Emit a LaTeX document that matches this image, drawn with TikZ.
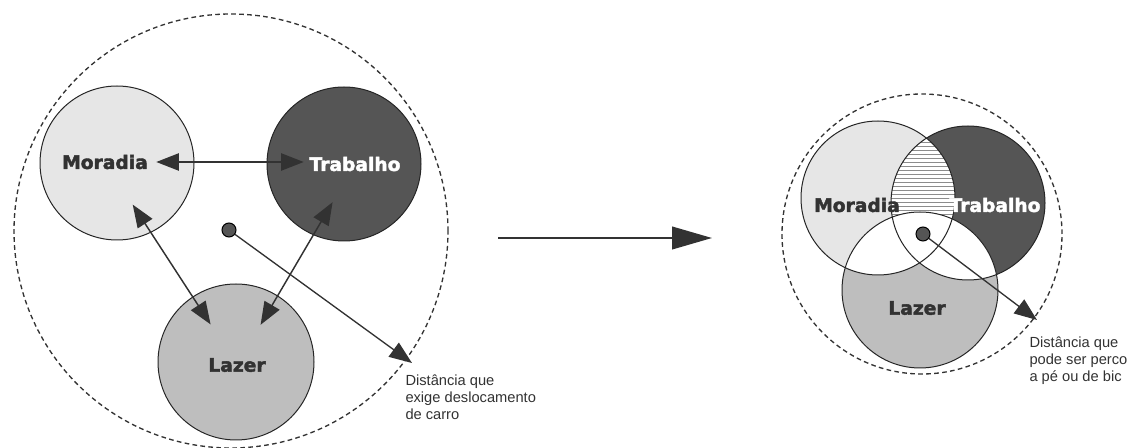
\documentclass[tikz,border=0pt]{standalone}
\usepackage{fontspec}
\setmainfont{Liberation Sans}
\newfontfamily\labelfont[FakeBold=2.2]{DejaVu Sans Bold}
\usetikzlibrary{arrows.meta,calc}

\definecolor{moradiaGray}{RGB}{230,230,230}
\definecolor{trabalhoGray}{RGB}{85,85,85}
\definecolor{lazerGray}{RGB}{190,190,190}
\definecolor{inkGray}{RGB}{50,50,50}

\tikzset{every picture/.style={line width=0.75pt}}
\tikzset{
  zone/.style={circle, draw=black!85, inner sep=0pt, outer sep=0pt, minimum size=115.5pt},
  reach/.style={circle, draw=black!80, dash pattern=on 3.5pt off 2.5pt, line width=1pt, inner sep=0pt, outer sep=0pt},
  zonelabel/.style={font=\labelfont\fontsize{14}{16}\selectfont, text=inkGray, inner sep=0pt},
  note/.style={font=\fontsize{11}{13}\selectfont, text=inkGray, align=left, anchor=north west, inner sep=0pt},
  link/.style={draw=inkGray, line width=1.1pt, {Triangle[length=17pt,width=13pt]}-{Triangle[length=17pt,width=13pt]}},
  reachline/.style={draw=inkGray, line width=1pt, -{Triangle[length=17pt,width=13pt]}},
  centre/.style={circle, draw=black, fill=trabalhoGray, minimum size=10.5pt, inner sep=0pt}
}

\begin{document}
\begin{tikzpicture}[x=0.75pt,y=0.75pt,yscale=-1,xscale=1]
\useasboundingbox (0,0) rectangle (1129,448);

%Shape: Circle, car area
\node[reach, minimum size=325.5pt] (carArea) at (231,231) {};
%Shape: Circle [moradia, left]
\node[zone, fill=moradiaGray] (moradiaL) at (117,163) {};
%Shape: Circle [trabalho, left]
\node[zone, fill=trabalhoGray] (trabalhoL) at (344,164) {};
%Shape: Circle [lazer, left]
\node[zone, fill=lazerGray, minimum size=117pt] (lazerL) at (236,362) {};

% Text Node
\node[zonelabel] (moradiaTxtL) at (105,162) {Moradia};
% Text Node
\node[zonelabel, text=white] (trabalhoTxtL) at (355,164) {Trabalho};
% Text Node
\node[zonelabel] (lazerTxtL) at (237,365) {Lazer};

%Straight Lines
\draw[link, shorten <=6pt, shorten >=4pt] (moradiaTxtL.east) -- (moradiaTxtL.east -| trabalhoTxtL.west);
\draw[link] ($(moradiaTxtL)!0.21!(lazerTxtL)$) -- ($(moradiaTxtL)!0.8!(lazerTxtL)$);
\draw[link] ($(trabalhoTxtL)!0.19!(lazerTxtL)$) -- ($(trabalhoTxtL)!0.8!(lazerTxtL)$);

%Shape: Circle, centre dot
\node[centre] (carDot) at (229,230) {};
\coordinate (carEnd) at (412,363);
\draw[reachline] (carDot) -- (carEnd);
% Text Node
\node[note] (carNote) at (405,374) {Distância que\\exige deslocamento\\de carro};

%Straight Lines, middle arrow
\coordinate (shiftStart) at (498,238);
\coordinate (shiftEnd) at (712,238);
\draw[draw=inkGray, line width=1.5pt, -{Triangle[length=30pt,width=17pt]}] (shiftStart) -- (shiftEnd);

%Shape: Circle, walk area
\node[reach, minimum size=210pt] (walkArea) at (922,234) {};
\coordinate (mR) at (878,198);
\coordinate (tR) at (968,203);
\coordinate (lR) at (920,290);

% fills of the right circles
\fill[moradiaGray] (mR) circle[radius=77];
\fill[trabalhoGray] (tR) circle[radius=77];
\begin{scope}
  \clip (mR) circle[radius=77];
  \clip (tR) circle[radius=77];
  \fill[white] (tR) circle[radius=77];
  \foreach \y in {118,122,...,282}
    \draw[line width=0.45pt, black!45] (790,\y) -- (1060,\y);
\end{scope}
\fill[lazerGray] (lR) circle[radius=78];
\begin{scope}
  \clip (lR) circle[radius=78];
  \fill[white] (mR) circle[radius=77];
  \fill[white] (tR) circle[radius=77];
\end{scope}

%Shape: Circle outlines, right
\node[zone] (moradiaR) at (mR) {};
\node[zone] (trabalhoR) at (tR) {};
\node[zone, minimum size=117pt] (lazerR) at (lR) {};

% Text Node
\node[zonelabel] (moradiaTxtR) at (857,205) {Moradia};
% Text Node
\node[zonelabel, text=white] (trabalhoTxtR) at (995,205) {Trabalho};
% Text Node
\node[zonelabel] (lazerTxtR) at (917,308) {Lazer};

%Shape: Circle, centre dot
\node[centre] (walkDot) at (923,234) {};
\coordinate (walkEnd) at (1037,320);
\draw[reachline] (walkDot) -- (walkEnd);
% Text Node
\node[note] (walkNote) at (1029,336) {Distância que\\pode ser perco\\a pé ou de bic};
\end{tikzpicture}
\end{document}
